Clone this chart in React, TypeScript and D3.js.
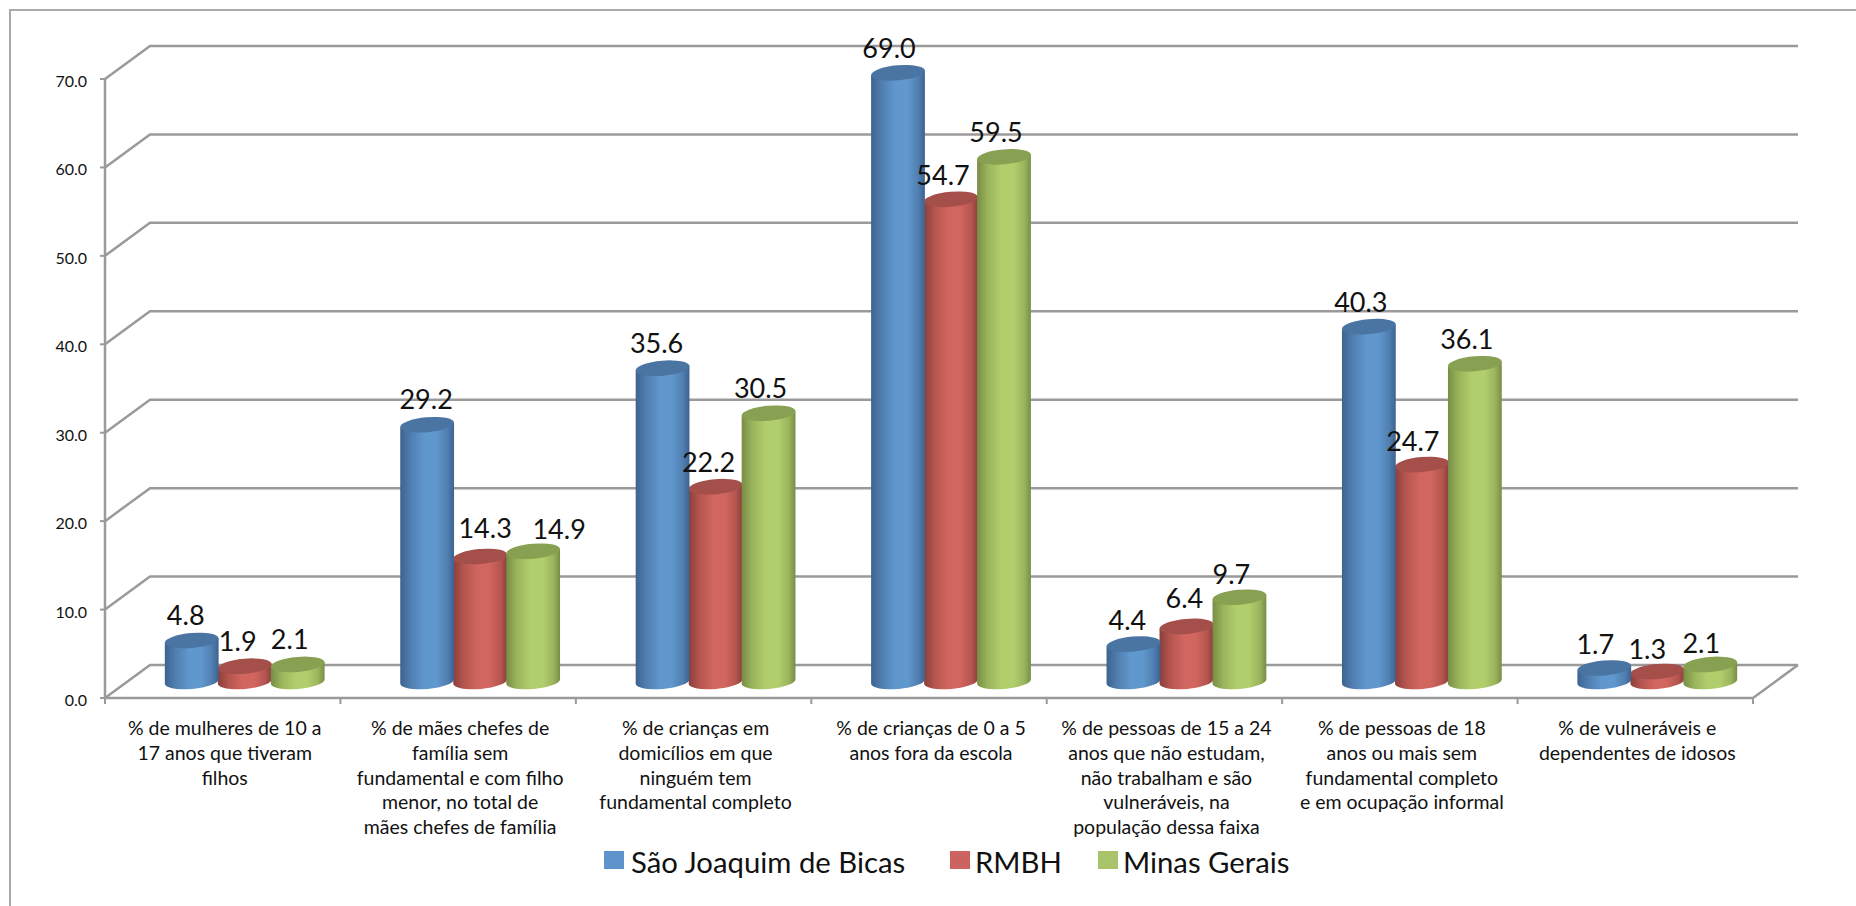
import React from "react";
import * as d3 from "d3";

const categories = [
  ["% de mulheres de 10 a", "17 anos que tiveram", "filhos"],
  ["% de mães chefes de", "família sem", "fundamental e com filho", "menor, no total de", "mães chefes de família"],
  ["% de crianças em", "domicílios em que", "ninguém tem", "fundamental completo"],
  ["% de crianças de 0 a 5", "anos fora da escola"],
  ["% de pessoas de 15 a 24", "anos que não estudam,", "não trabalham e são", "vulneráveis, na", "população dessa faixa"],
  ["% de pessoas de 18", "anos ou mais sem", "fundamental completo", "e em ocupação informal"],
  ["% de vulneráveis e", "dependentes de idosos"],
];
const saoJoaquim = [4.8, 29.2, 35.6, 69.0, 4.4, 40.3, 1.7];
const rmbh = [1.9, 14.3, 22.2, 54.7, 6.4, 24.7, 1.3];
const minasGerais = [2.1, 14.9, 30.5, 59.5, 9.7, 36.1, 2.1];
const seriesNames = ["São Joaquim de Bicas", "RMBH", "Minas Gerais"];
const yTicks = [0, 10, 20, 30, 40, 50, 60, 70];

const palette = [
  { edge: "#3d638f", shade: "#507eb0", mid: "#6097cd", top: "#4a74a2", swatch: "#5f93cc" },
  { edge: "#8a3f3c", shade: "#b5554f", mid: "#d1655f", top: "#a54f4b", swatch: "#cc635e" },
  { edge: "#788d45", shade: "#9ab45c", mid: "#b1ce6c", top: "#87a052", swatch: "#a9c36a" },
];

// Hand-placed data label offsets from the top of each cylinder, per series and category.
const labelOffsets = [
  [[-6, -24], [-1, -24], [-6, -24], [-9, -23], [-6, -23], [-8, -23], [-9, -22]],
  [[-7, -24], [5, -27], [-7, -23], [-8, -23], [-2, -27], [-9, -22], [-10, -21]],
  [[-8, -24], [26, -21], [-8, -24], [-8, -23], [-8, -22], [-8, -23], [-9, -20]],
];

const front = { left: 105, right: 1753, base: 698, top: 79 };
const depth = { x: 45, y: -33 };
const barWidth = 54;
const tilt = 5;
const ry = 7.5;
const floorY = front.base + depth.y / 2 + 1.5;
const FONT = "Lato, 'Noto Sans', sans-serif";

const y = d3.scaleLinear().domain([0, 70]).range([front.base, front.top]);
const x = d3
  .scaleBand<number>()
  .domain(d3.range(categories.length))
  .range([front.left, front.right]);

function cylinderCentre(series: number, cat: number) {
  return x(cat)! + x.bandwidth() / 2 + depth.x / 2 - 0.5 + (series - 1) * (barWidth - 1);
}

function cylinderBody(cx: number, yBase: number, yTop: number) {
  const rx = barWidth / 2;
  const rad = (tilt * Math.PI) / 180;
  const dx = rx * Math.cos(rad);
  const dy = rx * Math.sin(rad);
  return (
    `M${cx - dx},${yTop + dy}L${cx - dx},${yBase + dy}` +
    `A${rx},${ry} ${-tilt} 0 0 ${cx + dx},${yBase - dy}` +
    `L${cx + dx},${yTop - dy}Z`
  );
}

function Cylinder({ series, cat, value }: { series: number; cat: number; value: number }) {
  const cx = cylinderCentre(series, cat);
  const yTop = floorY - (front.base - y(value));
  return (
    <g>
      <path d={cylinderBody(cx, floorY - 1.5, yTop)} fill={`url(#cyl-${series})`} />
      <ellipse
        cx={cx}
        cy={yTop}
        rx={barWidth / 2}
        ry={ry}
        transform={`rotate(${-tilt} ${cx} ${yTop})`}
        fill={palette[series].top}
      />
    </g>
  );
}

export default function App() {
  const values = [saoJoaquim, rmbh, minasGerais];
  // Red sits behind its neighbours where the cylinders overlap.
  const drawOrder = [1, 0, 2];
  const legendX = [604, 950, 1098];
  const legendTextX = [631, 975, 1123];

  return (
    <svg
      width={1856}
      height={906}
      style={{ position: "absolute", left: 0, top: 0, background: "#fff" }}
      fontFamily={FONT}
    >
      <defs>
        {palette.map((c, i) => (
          <linearGradient key={i} id={`cyl-${i}`} x1="0" x2="1" y1="0" y2="0">
            <stop offset="0" stopColor={c.edge} />
            <stop offset="0.2" stopColor={c.shade} />
            <stop offset="0.45" stopColor={c.mid} />
            <stop offset="0.68" stopColor={c.mid} />
            <stop offset="0.88" stopColor={c.shade} />
            <stop offset="1" stopColor={c.edge} />
          </linearGradient>
        ))}
      </defs>

      {/* chart frame */}
      <path d="M10,906V10H1856" fill="none" stroke="#a9a9a9" strokeWidth={2} />

      {/* walls and gridlines */}
      {yTicks.map((t) => (
        <path
          key={t}
          d={`M${front.left},${y(t)}l${depth.x},${depth.y}H${front.right + depth.x}`}
          fill="none"
          stroke="#9a9a9a"
          strokeWidth={2.5}
        />
      ))}
      <path
        d={`M${front.left},${front.base}H${front.right}l${depth.x},${depth.y}`}
        fill="none"
        stroke="#9a9a9a"
        strokeWidth={2.5}
      />
      <line x1={front.left} x2={front.left} y1={y(70)} y2={front.base} stroke="#9a9a9a" strokeWidth={2.5} />

      {/* y axis */}
      {yTicks.map((t) => (
        <g key={t}>
          <line x1={front.left - 5} x2={front.left} y1={y(t)} y2={y(t)} stroke="#9a9a9a" strokeWidth={2} />
          <text x={87} y={y(t) + 8} textAnchor="end" fontSize={16} fill="#111">
            {t.toFixed(1)}
          </text>
        </g>
      ))}

      {/* x axis ticks and wrapped labels */}
      {d3.range(categories.length + 1).map((i) => {
        const px = front.left + i * x.bandwidth();
        return <line key={i} x1={px} x2={px} y1={front.base} y2={front.base + 6} stroke="#9a9a9a" strokeWidth={2} />;
      })}
      {categories.map((lines, i) => (
        <text key={i} textAnchor="middle" fontSize={19.5} fill="#111">
          {lines.map((l, j) => (
            <tspan key={j} x={x(i)! + x.bandwidth() / 2 + 2} y={735 + j * 24.8}>
              {l}
            </tspan>
          ))}
        </text>
      ))}

      {/* cylinders */}
      {categories.map((_, c) =>
        drawOrder.map((s) => <Cylinder key={`${c}-${s}`} series={s} cat={c} value={values[s][c]} />)
      )}

      {/* value labels */}
      {values.map((vals, s) =>
        vals.map((v, c) => {
          const top = floorY - (front.base - y(v));
          const [ox, oy] = labelOffsets[s][c];
          return (
            <text
              key={`${s}-${c}`}
              x={cylinderCentre(s, c) + ox}
              y={top + oy + 8.5}
              textAnchor="middle"
              fontSize={27}
              fill="#111"
            >
              {v.toFixed(1)}
            </text>
          );
        })
      )}

      {/* legend */}
      {seriesNames.map((n, i) => (
        <g key={n}>
          <rect x={legendX[i]} y={851} width={20} height={18} fill={palette[i].swatch} />
          <text x={legendTextX[i]} y={873} fontSize={29.3} fill="#111">
            {n}
          </text>
        </g>
      ))}
    </svg>
  );
}
